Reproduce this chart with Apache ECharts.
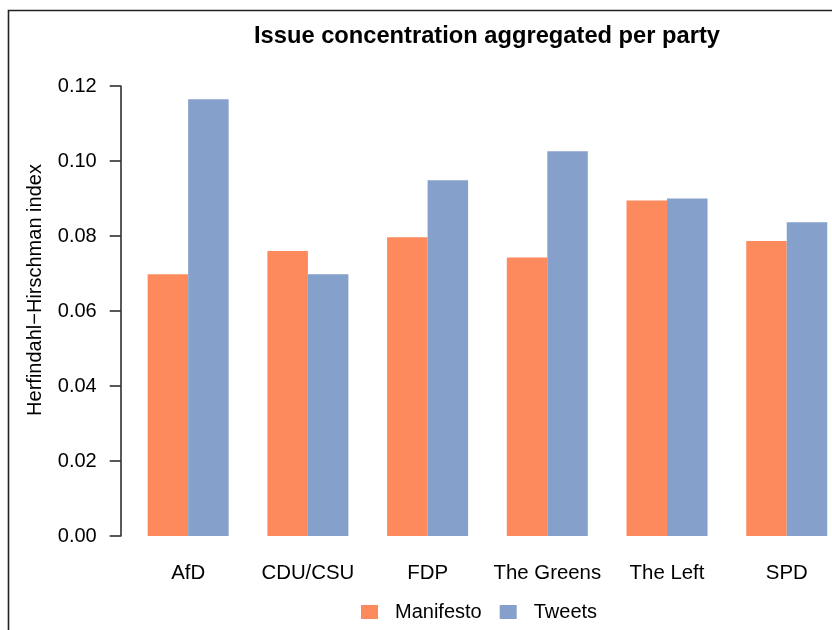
<!DOCTYPE html>
<html>
<head>
<meta charset="utf-8">
<script src="https://cdn.jsdelivr.net/npm/echarts@6/dist/echarts.min.js"></script>
<style>
html,body{margin:0;padding:0;background:#fff;overflow:hidden;}
#chart{width:870px;height:630px;}
</style>
</head>
<body>
<div id="chart"></div>
<script>
var categories = ['AfD', 'CDU/CSU', 'FDP', 'The Greens', 'The Left', 'SPD'];
var manifesto = [0.0698, 0.0760, 0.0797, 0.0743, 0.0895, 0.0787];
var tweets = [0.1165, 0.0698, 0.0949, 0.1026, 0.0900, 0.0837];
var yTicks = [0.00, 0.02, 0.04, 0.06, 0.08, 0.10, 0.12];
var seriesNames = ['Manifesto', 'Tweets'];
var titleText = 'Issue concentration aggregated per party';
var yName = 'Herfindahl\u2212Hirschman index';

var FONT = '"Liberation Sans", Arial, Helvetica, sans-serif';
var chart = echarts.init(document.getElementById('chart'), null, {renderer: 'canvas'});
chart.setOption({
  animation: false,
  backgroundColor: '#ffffff',
  title: {
    text: titleText,
    left: 487, textAlign: 'center',
    top: 24,
    padding: 0,
    textStyle: {fontFamily: FONT, fontSize: 23.7, fontWeight: 'bold', color: '#000'}
  },
  legend: {
    data: seriesNames,
    left: 361, top: 602,
    padding: 0,
    itemWidth: 17, itemHeight: 14, itemGap: 18,
    icon: 'rect',
    textStyle: {fontFamily: FONT, fontSize: 20, color: '#000', padding: [0, 0, 0, 12]}
  },
  graphic: [
    {type: 'rect', shape: {x: 8.5, y: 10.5, width: 900, height: 900}, style: {fill: 'none', stroke: '#222', lineWidth: 1.6}, silent: true},
    {type: 'text', x: 35, y: 290, rotation: Math.PI / 2,
     style: {text: yName, fontFamily: FONT, fontSize: 20, fill: '#000', textAlign: 'center', textVerticalAlign: 'middle'}}
  ],
  grid: {left: 128.3, width: 718.3, top: 86, bottom: 94, containLabel: false},
  xAxis: {
    type: 'category',
    data: categories,
    axisLine: {show: false},
    axisTick: {show: false},
    axisLabel: {interval: 0, fontFamily: FONT, fontSize: 20.4, color: '#000', margin: 27}
  },
  yAxis: {
    type: 'value',
    min: 0, max: 0.12, interval: 0.02,
    offset: 7.6,
    axisLine: {show: true, lineStyle: {color: '#222', width: 1.5}},
    axisTick: {show: true, length: 11, lineStyle: {color: '#222', width: 1.5}},
    splitLine: {show: false},
    axisLabel: {fontFamily: FONT, fontSize: 20, color: '#000', margin: 24,
      formatter: function (v) { return v.toFixed(2); }}
  },
  series: [
    {name: seriesNames[0], type: 'bar', data: manifesto, barWidth: 40.5, barGap: '0%',
     itemStyle: {color: '#FC8A5C'}},
    {name: seriesNames[1], type: 'bar', data: tweets, barWidth: 40.5, barGap: '0%',
     itemStyle: {color: '#84A0CB'}}
  ]
});
</script>
</body>
</html>
